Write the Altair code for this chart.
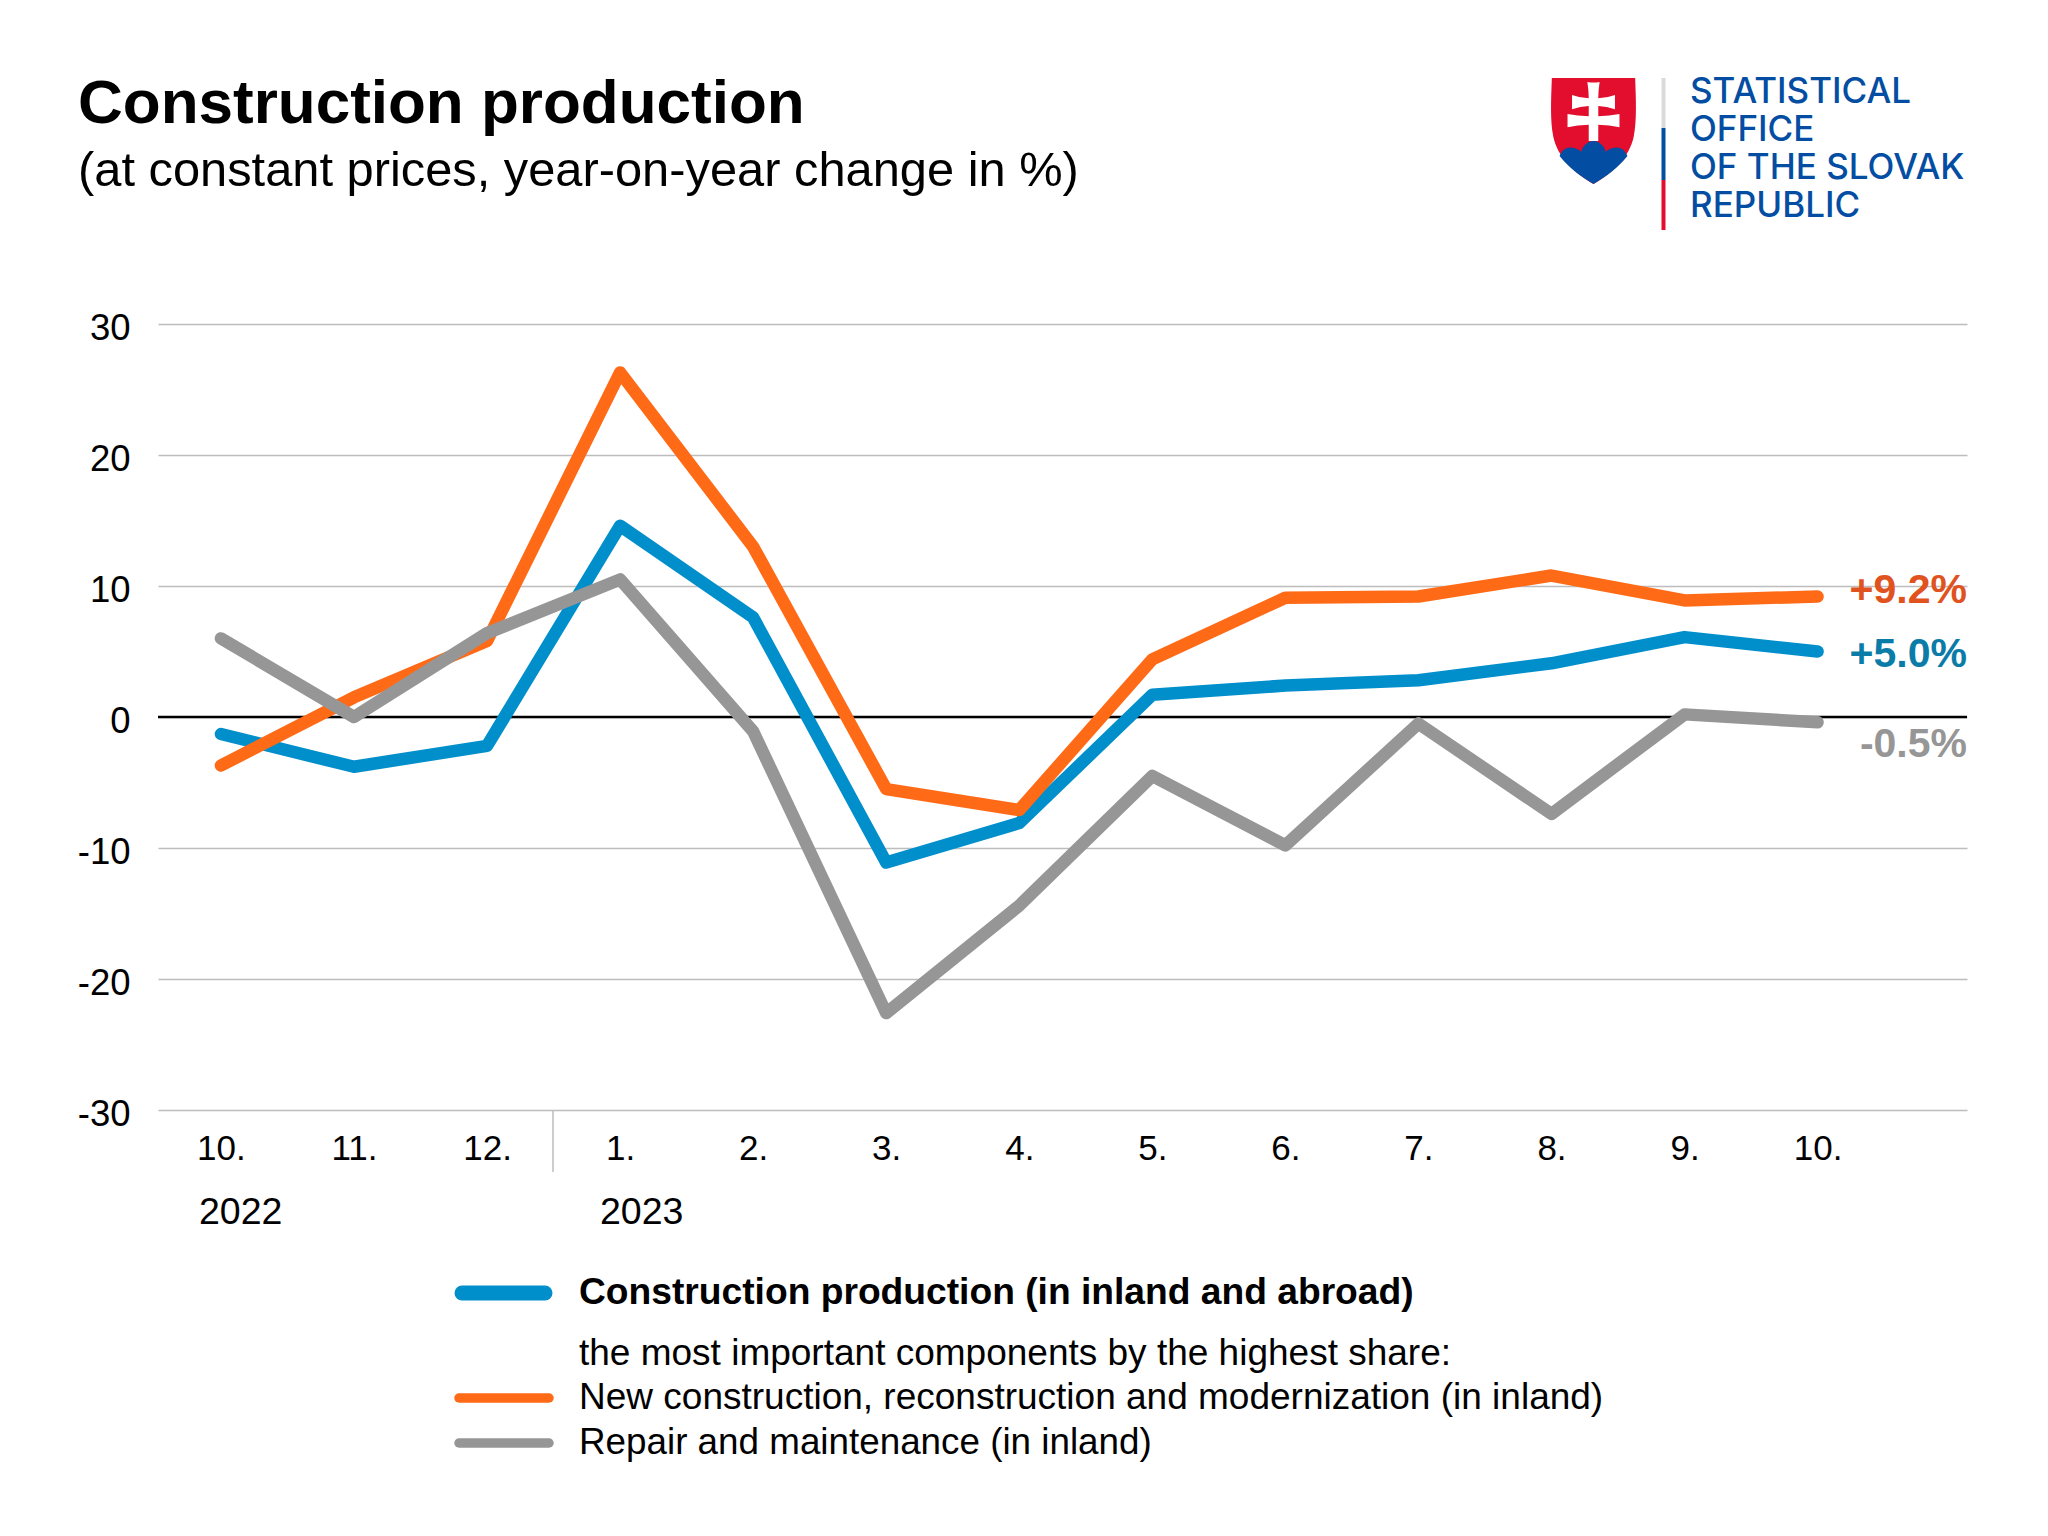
import altair as alt
import pandas as pd

months = ["10.", "11.", "12.", "1.", "2.", "3.", "4.", "5.", "6.", "7.", "8.", "9.", "10."]
construction = [-1.3, -3.8, -2.2, 14.6, 7.6, -11.1, -8.1, 1.7, 2.4, 2.8, 4.1, 6.1, 5.0]
new_constr = [-3.7, 1.5, 5.8, 26.3, 13.0, -5.5, -7.1, 4.4, 9.1, 9.2, 10.8, 8.9, 9.2]
repair = [6.0, 0.0, 6.4, 10.5, -1.1, -22.6, -14.4, -4.5, -9.8, -0.5, -7.4, 0.2, -0.4]

BLUE, ORANGE, GRAY = "#008FCB", "#FF6A17", "#969696"
FONT = "Liberation Sans"
OX, OY = 158, 324  # page position of the plot area
W, H = 1809, 786

one = pd.DataFrame({"a": [0]})
idx = list(range(len(months)))
xs = alt.X("i:Q", scale=alt.Scale(domain=[-0.473, 13.123], nice=False, zero=False),
           axis=alt.Axis(values=idx, labelExpr="['10.','11.','12.','1.','2.','3.','4.','5.','6.','7.','8.','9.','10.'][datum.value]",
                         grid=False, domain=False, ticks=False, title=None, labelFont=FONT, labelFontSize=35,
                         labelColor="#000", labelPadding=21, labelAngle=0, labelFlush=False, labelOverlap=False))
ys = alt.Y("v:Q", scale=alt.Scale(domain=[-30, 30], nice=False),
           axis=alt.Axis(values=[-30, -20, -10, 0, 10, 20, 30], grid=True, gridColor="#BDBDBD", gridWidth=1.5,
                         domain=False, ticks=False, title=None, labelFont=FONT, labelFontSize=36.5, labelColor="#000",
                         labelPadding=28, labelOffset=4, labelExpr="'' + datum.value"))


def series(vals, color, w=12.5):
    df = pd.DataFrame({"i": idx, "v": vals})
    return alt.Chart(df).mark_line(color=color, strokeWidth=w, strokeCap="round", strokeJoin="round").encode(x=xs, y=ys)


def text(s, px, py, size=36, color="#000", weight="normal", align="left", font=FONT):
    return alt.Chart(pd.DataFrame({"t": [s]})).mark_text(
        align=align, baseline="alphabetic", fontSize=size, color=color, fontWeight=weight, font=font
    ).encode(x=alt.value(px - OX), y=alt.value(py - OY), text="t:N")


def rule(x1, x2, y1, y2, color, w, cap="butt"):
    enc = dict(x=alt.value(x1 - OX), y=alt.value(y1 - OY))
    if x2 != x1:
        enc["x2"] = alt.value(x2 - OX)
    if y2 != y1:
        enc["y2"] = alt.value(y2 - OY)
    return alt.Chart(one).mark_rule(color=color, strokeWidth=w, strokeCap=cap).encode(**enc)


def symbol(path, color, px, py, size):
    return alt.Chart(one).mark_point(shape=path, filled=True, fill=color, opacity=1, strokeWidth=0, size=size).encode(
        x=alt.value(px - OX), y=alt.value(py - OY))


SHIELD = "M-.786 -1 L.786 -1 C.80 -.6 .82 -.2 .76 .1 C.68 .5 .35 .8 0 1 C-.35 .8 -.68 .5 -.76 .1 C-.82 -.2 -.80 -.6 -.786 -1Z"
HILLS = ("M-.64 .47 C-.6 .36 -.52 .31 -.44 .31 C-.36 .31 -.28 .34 -.23 .39 C-.2 .27 -.1 .19 0 .19 C.1 .19 .2 .27 .23 .39 "
         "C.28 .34 .36 .31 .44 .31 C.52 .31 .6 .36 .64 .47 C.45 .7 .25 .85 0 1 C-.25 .85 -.45 .7 -.64 .47Z")
CROSS = ("M-.115 -.925 Q0 -.905 .115 -.925 Q.09 -.75 .09 -.62 Q.25 -.62 .405 -.68 L.405 -.41 Q.25 -.46 .09 -.47 "
         "L.09 -.28 Q.3 -.28 .49 -.32 L.49 -.07 Q.3 -.12 .09 -.12 L.09 .19 L-.09 .19 L-.09 -.12 Q-.3 -.12 -.49 -.07 "
         "L-.49 -.32 Q-.3 -.28 -.09 -.28 L-.09 -.47 Q-.25 -.46 -.405 -.41 L-.405 -.68 Q-.25 -.62 -.09 -.62 Q-.09 -.75 -.115 -.925Z")

zero_rule = alt.Chart(pd.DataFrame({"v": [0]})).mark_rule(color="#000", strokeWidth=2.5).encode(
    y=alt.Y("v:Q", scale=alt.Scale(domain=[-30, 30], nice=False)))

layers = [
    zero_rule,
    series(construction, BLUE),
    series(new_constr, ORANGE),
    series(repair, GRAY),
    rule(553, 553, 1111, 1172, "#BDBDBD", 1.5),
    text("2022", 199, 1224, 37.5),
    text("2023", 600, 1224, 37.5),
    text("+9.2%", 1967, 603, 41, "#E0521E", "bold", "right"),
    text("+5.0%", 1967, 667, 41, "#0B7CA8", "bold", "right"),
    text("-0.5%", 1967, 757, 41, "#969696", "bold", "right"),
    text("Construction production", 78, 123, 62, "#000", "bold"),
    text("(at constant prices, year-on-year change in %)", 78, 186, 48.8),
    rule(462, 545, 1293, 1293, BLUE, 15, "round"),
    rule(459, 549, 1398, 1398, ORANGE, 9.5, "round"),
    rule(459, 549, 1443, 1443, GRAY, 9.5, "round"),
    text("Construction production (in inland and abroad)", 579, 1304, 37.2, "#000", "bold"),
    text("the most important components by the highest share:", 579, 1365, 37),
    text("New construction, reconstruction and modernization (in inland)", 579, 1409, 37),
    text("Repair and maintenance (in inland)", 579, 1454, 36.8),
    symbol(SHIELD, "#E30D2E", 1593.5, 131, 11236),
    symbol(HILLS, "#034EA2", 1593.5, 131, 11236),
    symbol(CROSS, "#FFFFFF", 1593.5, 131, 11236),
    rule(1663.5, 1663.5, 78, 128, "#D9DADA", 4),
    rule(1663.5, 1663.5, 128, 180, "#034EA2", 4),
    rule(1663.5, 1663.5, 180, 230, "#E30D2E", 4),
    text("STATISTICAL", 1690, 103, 35, "#034EA2", 500, font="Inter"),
    text("OFFICE", 1690, 141, 35, "#034EA2", 500, font="Inter"),
    text("OF THE SLOVAK", 1690, 179, 35, "#034EA2", 500, font="Inter"),
    text("REPUBLIC", 1690, 217, 35, "#034EA2", 500, font="Inter"),
]

chart = alt.layer(*layers).properties(
    width=W, height=H,
    autosize=alt.AutoSizeParams(type="none"),
    padding={"left": OX - 8, "top": OY - 8, "right": 60, "bottom": 380},
    background="#FFFFFF",
).configure_view(stroke=None)

chart.save("out.html", embed_options={"renderer": "svg", "actions": False})
